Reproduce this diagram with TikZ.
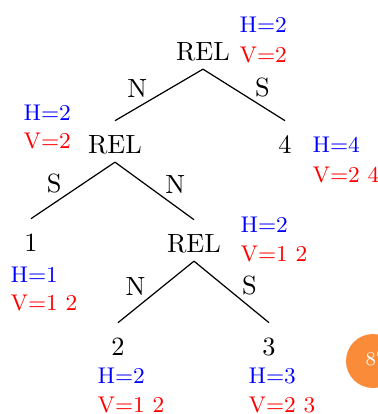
\documentclass[tikz,border=0pt]{standalone}
\usepackage{tikz}
\usetikzlibrary{positioning}
\definecolor{badge}{RGB}{250,139,57}
\tikzset{
    every picture/.style={line width=0.5pt},
    treenode/.style={anchor=base, text height=9.5pt, text depth=0pt, inner sep=3.5pt, font=\fontsize{10.8pt}{13pt}\selectfont},
    hlab/.style={anchor=base west, inner sep=0pt, text=blue, font=\fontsize{9.3pt}{11pt}\selectfont},
    vlab/.style={anchor=base west, inner sep=0pt, text=red, font=\fontsize{9.3pt}{11pt}\selectfont},
    branch/.style={pos=0.6, inner sep=1pt, font=\fontsize{10.8pt}{13pt}\selectfont}
}
\begin{document}
\begin{tikzpicture}[x=0.41pt, y=-0.41pt]
    % Rahmen
    \clip (0,0) rectangle (378,414);

    % Baumknoten
    \node[treenode] (rel0) at (203,60) {REL};
    \node[treenode] (rel1) at (115,153) {REL};
    \node[treenode] (leaf4) at (285,153) {4};
    \node[treenode] (leaf1) at (31,251) {1};
    \node[treenode] (rel2) at (194,252) {REL};
    \node[treenode] (leaf2) at (118,355) {2};
    \node[treenode] (leaf3) at (269,355) {3};

    % Kanten mit Beschriftung
    \draw (rel0.south) -- node[branch, above left] {N} (rel1.north);
    \draw (rel0.south) -- node[branch, above right] {S} (leaf4.north);
    \draw (rel1.south) -- node[branch, above left] {S} (leaf1.north);
    \draw (rel1.south) -- node[branch, above right] {N} (rel2.north);
    \draw (rel2.south) -- node[branch, above left] {N} (leaf2.north);
    \draw (rel2.south) -- node[branch, above right] {S} (leaf3.north);

    % H- und V-Werte
    \node[hlab] (h0) at (239,32) {H=2};
    \node[vlab] (v0) at (239,62) {V=2};
    \node[hlab] (h1) at (23,120) {H=2};
    \node[vlab] (v1) at (23,148) {V=2};
    \node[hlab] (h4) at (312,152) {H=4};
    \node[vlab] (v4) at (312,182) {V=2 4};
    \node[hlab] (h2) at (240,232) {H=2};
    \node[vlab] (v2) at (240,261) {V=1 2};
    \node[hlab] (hl1) at (10,282) {H=1};
    \node[vlab] (vl1) at (10,310) {V=1 2};
    \node[hlab] (hl2) at (97,383) {H=2};
    \node[vlab] (vl2) at (97,412) {V=1 2};
    \node[hlab] (hl3) at (248,383) {H=3};
    \node[vlab] (vl3) at (248,412) {V=2 3};

    % Seitenzahl
    \fill[badge] (373,361) circle (27);
    \node[anchor=base west, inner sep=0pt, text=white, font=\fontsize{8pt}{9pt}\selectfont] (page) at (365,365) {87};
\end{tikzpicture}
\end{document}
